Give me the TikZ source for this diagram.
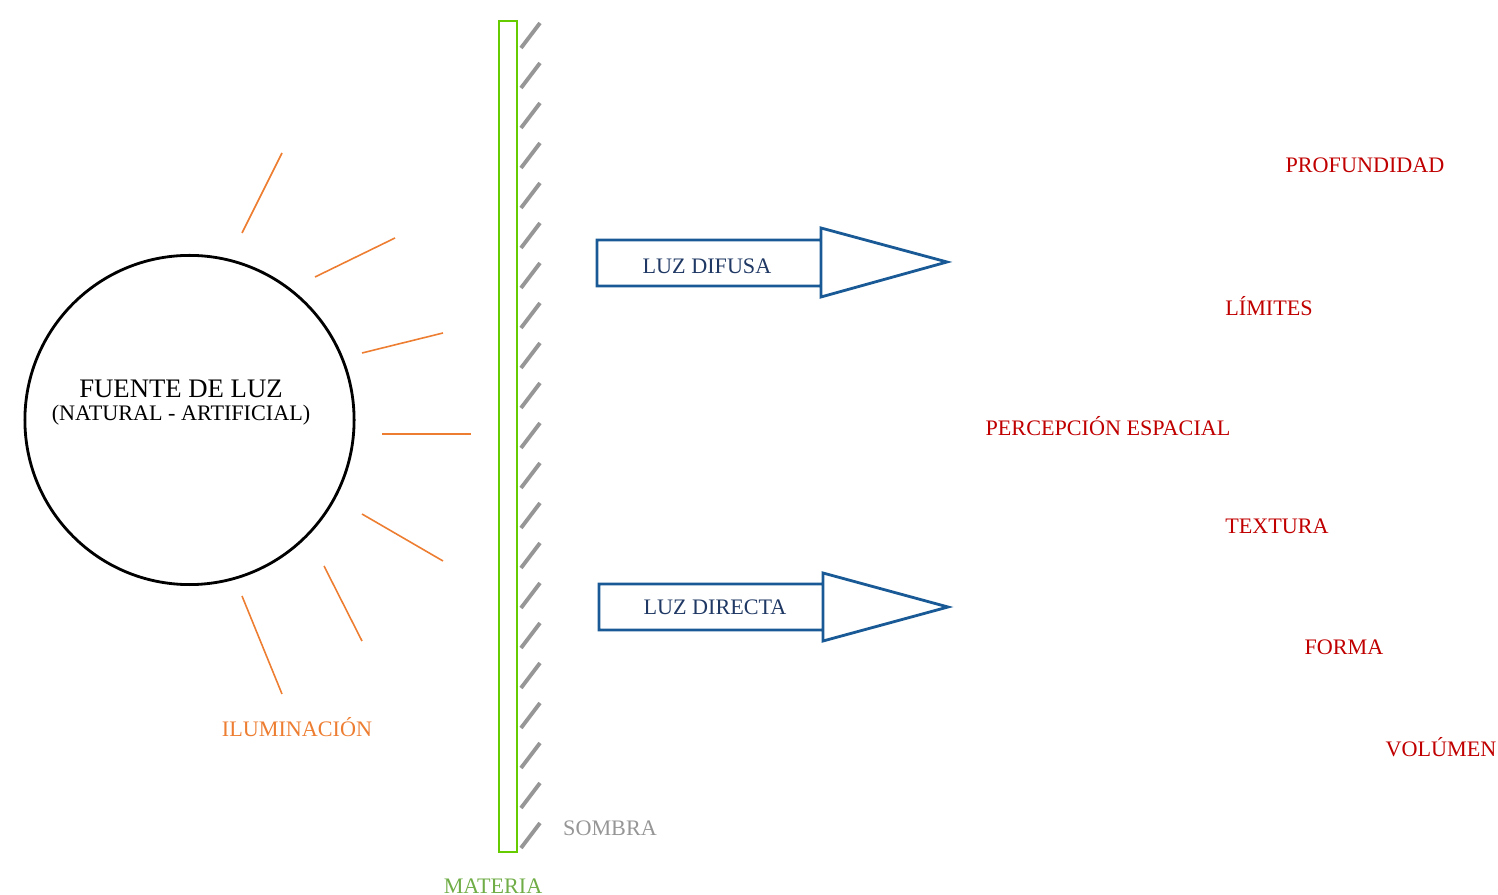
\documentclass[tikz,border=0pt]{standalone}
\usepackage{fontspec}
\setmainfont{Liberation Serif}
\definecolor{cRayo}{RGB}{237,125,49}
\definecolor{cMateria}{RGB}{102,204,0}
\definecolor{cMateriaTxt}{RGB}{112,173,71}
\definecolor{cSombra}{RGB}{150,150,150}
\definecolor{cFlecha}{RGB}{25,90,150}
\definecolor{cFlechaTxt}{RGB}{31,56,100}
\definecolor{cEfecto}{RGB}{192,0,0}
\tikzset{
  rayo/.style={cRayo, line width=0.45pt},
  flecha/.style={cFlecha, line width=0.8pt, line join=miter},
  rotulo/.style={font=\fontsize{6.3}{7}\selectfont, inner sep=0pt},
  efecto/.style={rotulo, cEfecto}
}
\begin{document}
\begin{tikzpicture}[x=0.01cm, y=-0.01cm]
      \useasboundingbox (0,0) rectangle (1498,895);
      \coordinate (O) at (189.5,420);

      % fuente de luz
      \draw [line width=0.8pt] (O) circle[radius=1.645cm];
      \path (181,389) node[font=\fontsize{7.6}{9}\selectfont, inner sep=0pt](fuente){FUENTE DE LUZ};
      \path (181,415) node[rotulo](tipo){(NATURAL - ARTIFICIAL)};

      % rayos
      \draw [rayo] (242,233) -- (282,153);
      \draw [rayo] (315,277) -- (395,238);
      \draw [rayo] (362,353) -- (443,333);
      \draw [rayo] (382,434) -- (471,434);
      \draw [rayo] (362,514) -- (443,561);
      \draw [rayo] (324,566) -- (362,641);
      \draw [rayo] (242,596) -- (282,694);
      \path (297,727) node[rotulo, cRayo](ilum){ILUMINACIÓN};

      % materia y sombra
      \draw [cMateria, line width=0.8pt] (499,21) rectangle (517,852);
      \foreach \y in {48,88,...,850}
            \draw [cSombra, line width=1.1pt] (521,\y) -- (540,\y-25);
      \path (610,828) node[rotulo, cSombra](sombra){SOMBRA};
      \path (493,886) node[rotulo, cMateriaTxt](materia){MATERIA};

      % flechas
      \draw [flecha] (821,240) -- (597,240) -- (597,286) -- (821,286)
            (821,228) -- (947,262) -- (821,297) -- cycle;
      \path (707,266) node[rotulo, cFlechaTxt](difusa){LUZ DIFUSA};
      \draw [flecha] (823,584) -- (599,584) -- (599,630) -- (823,630)
            (823,573) -- (948,607) -- (823,641) -- cycle;
      \path (715,607) node[rotulo, cFlechaTxt](directa){LUZ DIRECTA};

      % efectos
      \path (1365,165) node[efecto](prof){PROFUNDIDAD};
      \path (1269,306) node[efecto](lim){LÍMITES};
      \path (1108,426) node[efecto](perc){PERCEPCIÓN ESPACIAL};
      \path (1277,526) node[efecto](text){TEXTURA};
      \path (1344,647) node[efecto](forma){FORMA};
      \path (1441,747) node[efecto](vol){VOLÚMEN};
\end{tikzpicture}
\end{document}
